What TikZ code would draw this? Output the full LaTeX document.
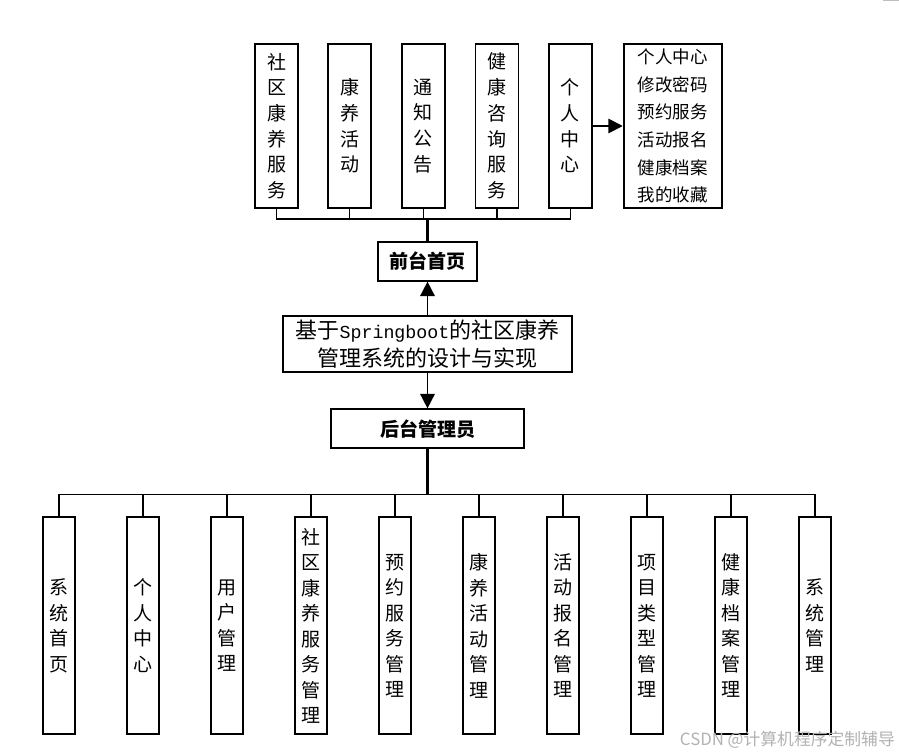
\documentclass[tikz,border=0pt]{standalone}
\usepackage{fontspec}
\setmainfont{Noto Sans CJK SC}
\newfontfamily\monof{Liberation Mono}
\usetikzlibrary{arrows.meta,calc}
\tikzset{
  box/.style={draw=black, line width=1.8pt, fill=white, inner sep=0pt, align=center},
  vtop/.style={box, minimum width=43pt, minimum height=164pt, font=\fontsize{19}{25.7}\selectfont},
  vbot/.style={box, minimum width=32.6pt, minimum height=217pt, font=\fontsize{19}{25.5}\selectfont},
  listbox/.style={box, minimum width=98.5pt, minimum height=164pt, font=\fontsize{17.5}{27.7}\selectfont},
  hubbox/.style={box, font=\fontsize{19}{22}\selectfont\bfseries},
  wire/.style={draw=black, line width=1.4pt},
  trunk/.style={draw=black, line width=2.6pt},
  arr/.style={draw=black, line width=1.7pt, -{Triangle[length=14.5pt,width=14.5pt]}},
}
\begin{document}
\begin{tikzpicture}[x=1pt,y=-1pt]
\useasboundingbox (0,0) rectangle (899,755);
\fill[white] (0,0) rectangle (899,755);
\fill[gray!50] (883,0) rectangle (899,1.2);

% top row
\node[vtop] (t1) at (276.5,126) {社\\区\\康\\养\\服\\务};
\node[vtop] (t2) at (349.7,126) {康\\养\\活\\动};
\node[vtop] (t3) at (423.3,126) {通\\知\\公\\告};
\node[vtop] (t4) at (497,126) {健\\康\\咨\\询\\服\\务};
\node[vtop] (t5) at (570.3,126) {个\\人\\中\\心};
\node[listbox] (lst) at (672.9,126) {个人中心\\修改密码\\预约服务\\活动报名\\健康档案\\我的收藏};

\node[hubbox, minimum width=98.4pt, minimum height=38.4pt] (front) at (427.5,261.5) {前台首页};
\node[box, minimum width=288.4pt, minimum height=56.6pt, font=\fontsize{22}{28.3}\selectfont] (sys) at (427.5,344) {基于{\fontsize{18.3}{28.3}\monof Springboot}的社区康养\\管理系统的设计与实现};
\node[hubbox, minimum width=193.6pt, minimum height=39pt] (back) at (427.5,428.8) {后台管理员};

\coordinate (tb) at (427.7,219);
\draw[wire] (t1.south) -- (t1.south |- tb) -- (t5.south |- tb) -- (t5.south);
\foreach \n in {t2,t3,t4} \draw[wire] (\n.south) -- (\n.south |- tb);
\draw[trunk] (tb) -- (tb |- front.north);
\draw[arr] (t5.east) -- (lst.west);
\draw[arr] (sys.north) -- (front.south);
\draw[arr] (sys.south) -- (back.north);

% bottom row
\node[vbot] (b1) at (59,625.7) {系\\统\\首\\页};
\node[vbot] (b2) at (143,625.7) {个\\人\\中\\心};
\node[vbot] (b3) at (227,625.7) {用\\户\\管\\理};
\node[vbot] (b4) at (311,625.7) {社\\区\\康\\养\\服\\务\\管\\理};
\node[vbot] (b5) at (395,625.7) {预\\约\\服\\务\\管\\理};
\node[vbot] (b6) at (479,625.7) {康\\养\\活\\动\\管\\理};
\node[vbot] (b7) at (563,625.7) {活\\动\\报\\名\\管\\理};
\node[vbot] (b8) at (647,625.7) {项\\目\\类\\型\\管\\理};
\node[vbot] (b9) at (731,625.7) {健\\康\\档\\案\\管\\理};
\node[vbot] (b10) at (815,625.7) {系\\统\\管\\理};

\coordinate (bb) at (427.5,494.3);
\draw[wire] (b1.north) -- (b1.north |- bb) -- (b10.north |- bb) -- (b10.north);
\foreach \n in {b2,b3,b4,b5,b6,b7,b8,b9} \draw[wire] (\n.north) -- (\n.north |- bb);
\draw[trunk] (back.south) -- (bb);

\node[text=black!30, font=\fontsize{16.8}{18}\selectfont, anchor=east, inner sep=0pt] (wm) at (895,740) {CSDN @计算机程序定制辅导};
\end{tikzpicture}
\end{document}
